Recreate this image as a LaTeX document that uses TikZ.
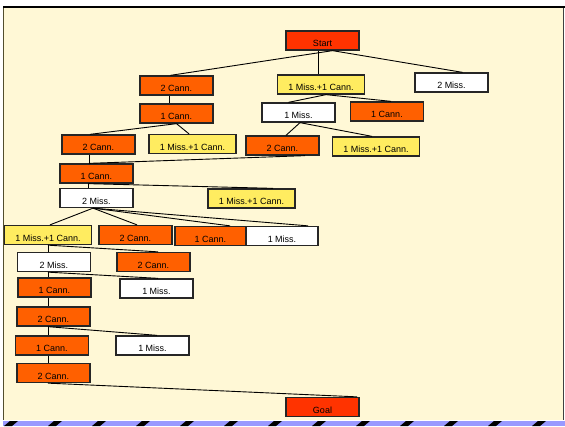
\documentclass[tikz,border=0pt]{standalone}
\usepackage{fontspec}
\setmainfont{Liberation Sans}
\definecolor{startred}{HTML}{FF3300}
\definecolor{cannorange}{HTML}{FF6000}
\definecolor{mixyellow}{HTML}{FFEC60}
\definecolor{slidecream}{HTML}{FFF8D6}
\definecolor{bandblue}{HTML}{9999FF}
\tikzset{
  statebox/.style={rectangle, draw=black!85, line width=1.3pt, minimum width=73pt,
    minimum height=19pt, inner sep=0pt, text height=12pt, text depth=0pt,
    font=\fontsize{9}{9}\selectfont},
  cann/.style={statebox, fill=cannorange},
  miss/.style={statebox, fill=white},
  mixed/.style={statebox, fill=mixyellow, minimum width=87pt},
  terminal/.style={statebox, fill=startred},
  link/.style={line width=0.9pt, black}
}
\begin{document}
\begin{tikzpicture}[x=1pt, y=-1pt]
  \useasboundingbox (0,0) rectangle (565,426);
  % slide frame
  \fill[white] (0,0) rectangle (565,426);
  \fill[slidecream] (3,8) rectangle (563,420);
  \draw[line width=2pt] (3,7) -- (565,7);
  \draw[line width=1.2pt, black!55!olive] (3.6,8) -- (3.6,420);
  \draw[line width=1pt, black!75] (563.5,8) -- (563.5,420);
  \fill[bandblue] (3,421) rectangle (565,426);
  \foreach \x in {4,48,...,532}
    \fill[black] (\x,426) -- (\x+8,426) -- (\x+14,421) -- (\x+6,421) -- cycle;

  % states
  \node[terminal] (start) at (322.5,40.5) {Start};
  \node[cann] (twoC1) at (176.5,85.5) {2 Cann.};
  \node[mixed] (mix1) at (321,84.5) {1 Miss.+1 Cann.};
  \node[miss] (twoM1) at (451.5,82.5) {2 Miss.};
  \node[cann] (oneC2) at (176.5,113.5) {1 Cann.};
  \node[miss] (oneM2) at (298.5,112.5) {1 Miss.};
  \node[cann] (oneC2b) at (387,111.5) {1 Cann.};
  \node[cann] (twoC3) at (98.5,144.5) {2 Cann.};
  \node[mixed] (mix3) at (192.5,144) {1 Miss.+1 Cann.};
  \node[cann] (twoC3b) at (282.5,145.5) {2 Cann.};
  \node[mixed] (mix3b) at (376,146.5) {1 Miss.+1 Cann.};
  \node[cann] (oneC4) at (96.5,173.5) {1 Cann.};
  \node[miss] (twoM5) at (96.5,198) {2 Miss.};
  \node[mixed] (mix5) at (251.5,198.5) {1 Miss.+1 Cann.};
  \node[mixed] (mix6) at (48,235) {1 Miss.+1 Cann.};
  \node[cann] (twoC6) at (135.5,235) {2 Cann.};
  \node[cann, minimum width=71pt] (oneC6) at (210.5,236) {1 Cann.};
  \node[miss, minimum width=72pt] (oneM6) at (282,236) {1 Miss.};
  \node[miss] (twoM7) at (54,262) {2 Miss.};
  \node[cann] (twoC7) at (153.5,262) {2 Cann.};
  \node[cann] (oneC8) at (54.5,287.5) {1 Cann.};
  \node[miss] (oneM8) at (156.5,288.5) {1 Miss.};
  \node[cann] (twoC9) at (53.5,316.5) {2 Cann.};
  \node[cann] (oneC10) at (52,345.5) {1 Cann.};
  \node[miss] (oneM10) at (152.5,345.5) {1 Miss.};
  \node[cann] (twoC11) at (53.5,373) {2 Cann.};
  \node[terminal] (goal) at (322.5,407) {Goal};

  % moves
  \draw[link] ([xshift=10pt]start.south) -- ([xshift=-6pt]twoC1.north);
  \draw[link] ([xshift=-4.5pt]start.south) -- ([xshift=-3pt]mix1.north);
  \draw[link] ([xshift=10pt]start.south) -- ([xshift=11pt]twoM1.north);
  \draw[link] ([xshift=-7.5pt]twoC1.south) -- ([xshift=-7.5pt]oneC2.north);
  \draw[link] ([xshift=5pt]mix1.south) -- ([xshift=-10pt]oneM2.north);
  \draw[link] ([xshift=5pt]mix1.south) -- ([xshift=4pt]oneC2b.north);
  \draw[link] (oneC2.south) -- ([xshift=-8.5pt]twoC3.north);
  \draw[link] (oneC2.south) -- ([xshift=-3.5pt]mix3.north);
  \draw[link] ([xshift=1.5pt]oneM2.south) -- ([xshift=3.5pt]twoC3b.north);
  \draw[link] ([xshift=1.5pt]oneM2.south) -- ([xshift=-4pt]mix3b.north);
  \draw[link] ([xshift=-9.5pt]twoC3.south) -- ([xshift=-7.5pt]oneC4.north);
  \draw[link] ([xshift=22.5pt]twoC3b.south) -- ([xshift=-7.5pt]oneC4.north);
  \draw[link] ([xshift=-8.5pt]oneC4.south) -- ([xshift=-8.5pt]twoM5.north);
  \draw[link] ([xshift=-8.5pt]oneC4.south) -- ([xshift=21.5pt]mix5.north);
  \draw[link] ([xshift=-3.5pt]twoM5.south) -- ([xshift=2pt]mix6.north);
  \draw[link] ([xshift=-3.5pt]twoM5.south) -- ([xshift=1.5pt]twoC6.north);
  \draw[link] ([xshift=-3.5pt]twoM5.south) -- ([xshift=19.5pt]oneC6.north);
  \draw[link] ([xshift=-3.5pt]twoM5.south) -- ([xshift=26pt]oneM6.north);
  \draw[link] (mix6.south) -- ([xshift=-6pt]twoM7.north);
  \draw[link] (mix6.south) -- ([xshift=4.5pt]twoC7.north);
  \draw[link] ([xshift=-6pt]twoM7.south) -- ([xshift=-6.5pt]oneC8.north);
  \draw[link] ([xshift=-6pt]twoM7.south) -- ([xshift=1.5pt]oneM8.north);
  \draw[link] ([xshift=-6.5pt]oneC8.south) -- ([xshift=-5.5pt]twoC9.north);
  \draw[link] ([xshift=-5.5pt]twoC9.south) -- ([xshift=-4pt]oneC10.north);
  \draw[link] ([xshift=-5.5pt]twoC9.south) -- ([xshift=4.5pt]oneM10.north);
  \draw[link] ([xshift=-4pt]oneC10.south) -- ([xshift=-5.5pt]twoC11.north);
  \draw[link] ([xshift=-5.5pt]twoC11.south) -- ([xshift=34.5pt]goal.north);
\end{tikzpicture}
\end{document}
